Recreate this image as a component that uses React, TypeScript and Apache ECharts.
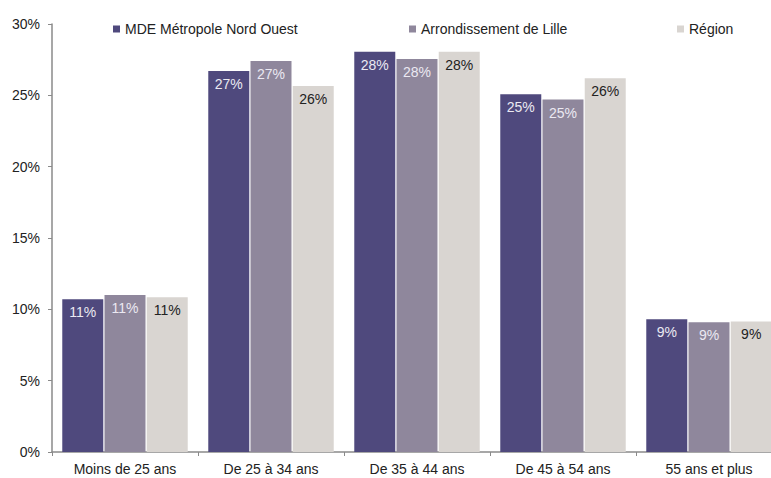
import React, { useEffect, useRef } from "react";
import * as echarts from "echarts";

const categories = ["Moins de 25 ans", "De 25 à 34 ans", "De 35 à 44 ans", "De 45 à 54 ans", "55 ans et plus"];
const seriesNames = ["MDE Métropole Nord Ouest", "Arrondissement de Lille", "Région"];
const mdeValues = [10.7, 26.7, 28.05, 25.07, 9.3];
const lilleValues = [11.0, 27.4, 27.55, 24.7, 9.1];
const regionValues = [10.85, 25.65, 28.05, 26.2, 9.15];
const yTicks = [0, 5, 10, 15, 20, 25, 30];

const colors = ["#4f497d", "#8f879c", "#d9d5d1"];
const labelColors = ["#ebe9f2", "#ebe9f2", "#222222"];

export default function App() {
  const ref = useRef<HTMLDivElement>(null);
  useEffect(() => {
    const chart = echarts.init(ref.current!, undefined, { renderer: "svg" });
    const font = "Liberation Sans, Arial, sans-serif";
    const data = [mdeValues, lilleValues, regionValues];
    const legendLefts = [108, 404, 672];
    chart.setOption({
      animation: false,
      textStyle: { fontFamily: font },
      legend: seriesNames.map((n, i) => ({
        data: [n],
        left: legendLefts[i],
        top: 17,
        icon: "rect",
        itemWidth: 7,
        itemHeight: 7,
        itemGap: 4,
        textStyle: { fontFamily: font, fontSize: 14, color: "#222" },
        selectedMode: false,
      })),
      grid: { left: 52, width: 730, top: 24, bottom: 26, containLabel: false, outerBoundsMode: "none" },
      xAxis: {
        type: "category",
        data: categories,
        axisLine: { lineStyle: { color: "#8a8a8a", width: 1.5 } },
        axisTick: { show: true, length: 4, lineStyle: { color: "#8a8a8a" } },
        axisLabel: { color: "#222", fontSize: 14, fontFamily: font, margin: 10 },
      },
      yAxis: {
        type: "value",
        min: yTicks[0],
        max: yTicks[yTicks.length - 1],
        interval: 5,
        splitLine: { show: false },
        axisLine: { show: true, lineStyle: { color: "#8a8a8a", width: 1.5 } },
        axisTick: { show: true, length: 4, lineStyle: { color: "#8a8a8a" } },
        axisLabel: { color: "#222", fontSize: 14, fontFamily: font, margin: 12, formatter: (v: number) => v + "%" },
      },
      series: seriesNames.map((n, i) => ({
        name: n,
        type: "bar",
        data: data[i],
        barWidth: 41,
        barGap: "3%",
        itemStyle: { color: colors[i] },
        label: {
          show: true,
          position: "insideTop",
          distance: 6,
          color: labelColors[i],
          fontSize: 14,
          fontFamily: font,
          formatter: (p: any) => Math.round(p.value) + "%",
        },
      })),
    });
    return () => chart.dispose();
  }, []);
  return <div ref={ref} style={{ width: 771, height: 478, position: "absolute", left: 0, top: 0 }} />;
}
